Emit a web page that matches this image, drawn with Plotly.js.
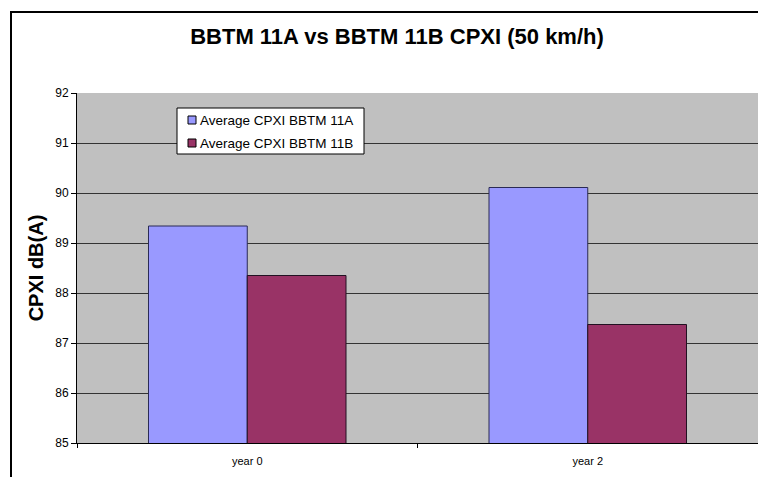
<!DOCTYPE html>
<html>
<head>
<meta charset="utf-8">
<script src="https://cdn.plot.ly/plotly-3.0.1.min.js"></script>
<style>
html,body{margin:0;padding:0;background:#fff;overflow:hidden;}
#wrap{position:relative;width:758px;height:477px;overflow:hidden;}
#chart{width:758px;height:477px;}
#frame{position:absolute;left:10px;top:11px;width:900px;height:600px;border-left:2px solid #000;border-top:2px solid #000;pointer-events:none;}
</style>
</head>
<body>
<div id="wrap"><div id="chart"></div><div id="frame"></div></div>
<script>
const categories = ["year 0", "year 2"];
const seriesA = [89.34, 90.11];
const seriesB = [88.35, 87.37];
const seriesNames = ["Average CPXI BBTM 11A", "Average CPXI BBTM 11B"];
const seriesColors = ["#9999FF", "#993366"];
const yTicks = [85, 86, 87, 88, 89, 90, 91, 92];

const traces = [
  {type: "bar", x: categories, y: seriesA, name: seriesNames[0],
   marker: {color: seriesColors[0], line: {color: "#2a2a55", width: 1}}},
  {type: "bar", x: categories, y: seriesB, name: seriesNames[1],
   marker: {color: seriesColors[1], line: {color: "#221122", width: 1}}}
];

// plot area in pixels: x 77..758, y 93..443
const px = v => (v - 77) / 681;
const py = v => (443 - v) / 350;

const shapes = [
  {type: "rect", xref: "paper", yref: "paper", x0: px(177), x1: px(364), y0: py(154), y1: py(108),
   fillcolor: "#ffffff", line: {color: "#000", width: 1}, layer: "above"}
];
const annotations = [];
seriesNames.forEach((name, i) => {
  const cy = 120 + i * 23;
  shapes.push({type: "rect", xref: "paper", yref: "paper", x0: px(188), x1: px(196),
    y0: py(cy + 4), y1: py(cy - 4), fillcolor: seriesColors[i], line: {color: "#000", width: 1}, layer: "above"});
  annotations.push({xref: "paper", yref: "paper", x: px(198), y: py(cy), xanchor: "left", yanchor: "middle",
    text: name, showarrow: false, font: {size: 13.5, color: "#000"}});
});

const layout = {
  width: 758, height: 477,
  margin: {l: 77, r: 0, t: 93, b: 34},
  paper_bgcolor: "#ffffff",
  plot_bgcolor: "#C0C0C0",
  font: {family: "Liberation Sans, Arial, sans-serif", color: "#000", size: 11},
  title: {text: "<b>BBTM 11A vs BBTM 11B CPXI (50 km/h)</b>", font: {size: 22, color: "#000"},
          x: px(397), xref: "paper", xanchor: "center", y: 1 - 36 / 477, yref: "container", yanchor: "middle"},
  barmode: "group",
  bargap: 0.42,
  bargroupgap: 0,
  showlegend: false,
  xaxis: {showgrid: false, tickson: "boundaries", ticks: "outside", ticklen: 4, tickcolor: "#000",
          showline: true, linecolor: "#000", linewidth: 1, tickfont: {size: 11}, fixedrange: true,
          ticklabelstandoff: 8},
  yaxis: {range: [85, 92], tickvals: yTicks, ticks: "outside", ticklen: 5, tickcolor: "#000",
          showline: true, linecolor: "#000", linewidth: 1, gridcolor: "#333333", gridwidth: 1,
          zeroline: false, tickfont: {size: 12},
          title: {text: "<b>CPXI dB(A)</b>", font: {size: 20}, standoff: 6}},
  shapes: shapes,
  annotations: annotations
};

Plotly.newPlot("chart", traces, layout, {displayModeBar: false, staticPlot: true});
</script>
</body>
</html>
